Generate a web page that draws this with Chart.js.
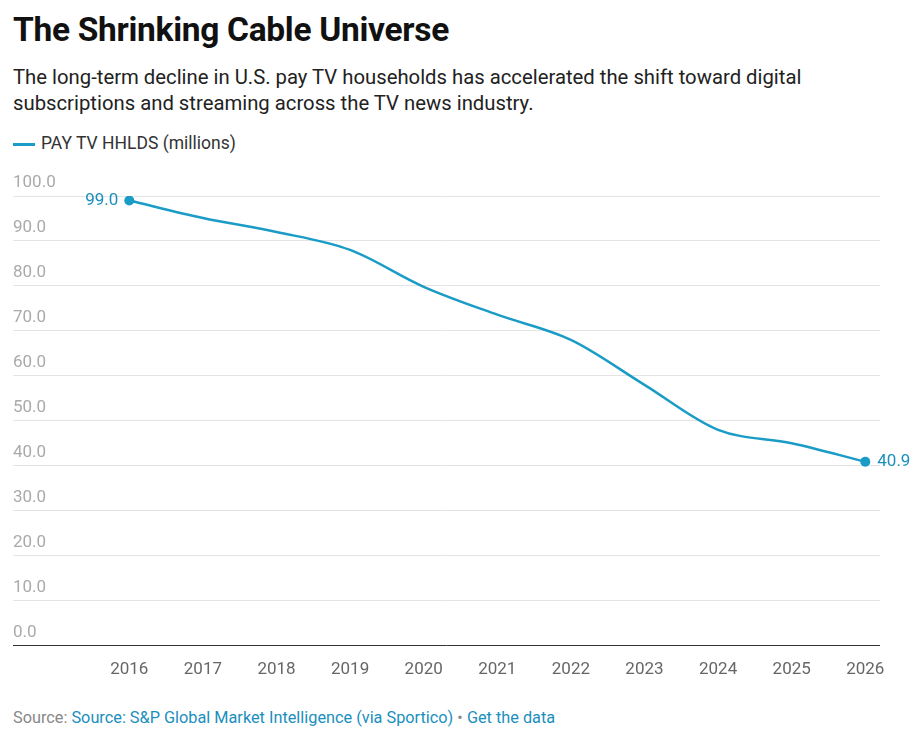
<!DOCTYPE html>
<html>
<head>
<meta charset="utf-8">
<script src="https://cdn.jsdelivr.net/npm/chart.js@4"></script>
<style>
  body { margin: 0; background: #fff; font-family: Roboto, sans-serif; }
  #wrap { position: relative; width: 922px; height: 739px; }
  h1 { position: absolute; left: 13px; top: 10px; margin: 0; font-size: 33.5px; font-weight: 700; color: #111; letter-spacing: -0.3px; }
  .sub { position: absolute; left: 13px; top: 64px; width: 880px; font-size: 20.3px; line-height: 26px; color: #222; }
  .legend { position: absolute; left: 13px; top: 133px; font-size: 17.5px; color: #333; }
  .legend span { display: inline-block; width: 22px; height: 3px; background: #1a9cc6; vertical-align: middle; margin-right: 6px; }
  #box { position: absolute; left: 0; top: 170px; width: 922px; height: 516px; }
  .src { position: absolute; left: 13px; top: 708px; font-size: 16.3px; color: #888; }
  .src a { color: #1a8fbd; text-decoration: none; }
</style>
</head>
<body>
<div id="wrap">
  <h1>The Shrinking Cable Universe</h1>
  <div class="sub">The long-term decline in U.S. pay TV households has accelerated the shift toward digital subscriptions and streaming across the TV news industry.</div>
  <div class="legend"><span></span>PAY TV HHLDS (millions)</div>
  <div id="box"><canvas id="chart"></canvas></div>
  <div class="src">Source: <a>Source: S&amp;P Global Market Intelligence (via Sportico)</a> • <a>Get the data</a></div>
</div>
<script>
// Dados do gráfico
const years = [2016, 2017, 2018, 2019, 2020, 2021, 2022, 2023, 2024, 2025, 2026];
const payTv = [99.0, 95.1, 92.0, 88.0, 79.8, 73.6, 68.0, 58.0, 48.0, 45.0, 40.9];
const yTicks = [0, 10, 20, 30, 40, 50, 60, 70, 80, 90, 100];

const endLabels = {
    id: 'endLabels',
    afterDatasetsDraw(chart) {
        const ctx = chart.ctx;
        const meta = chart.getDatasetMeta(0);
        const last = payTv.length - 1;
        ctx.save();
        ctx.font = '17px Roboto';
        ctx.fillStyle = '#1a8fbd';
        ctx.textBaseline = 'middle';
        const p0 = meta.data[0];
        ctx.textAlign = 'right';
        ctx.fillText(payTv[0].toFixed(1), p0.x - 11, p0.y);
        const pl = meta.data[last];
        ctx.textAlign = 'left';
        ctx.fillText(payTv[last].toFixed(1), pl.x + 12, pl.y);
        ctx.restore();
    }
};

new Chart(document.getElementById('chart'), {
    type: 'line',
    data: {
        datasets: [{
            data: years.map((y, i) => ({ x: y, y: payTv[i] })),
            borderColor: '#1a9cc6',
            borderWidth: 2.5,
            cubicInterpolationMode: 'monotone',
            pointRadius: payTv.map((v, i) => (i === 0 || i === payTv.length - 1) ? 5 : 0),
            pointBackgroundColor: '#1a9cc6',
            pointBorderWidth: 0
        }]
    },
    options: {
        responsive: true,
        maintainAspectRatio: false,
        animation: false,
        layout: { padding: { left: 13, right: 42, top: 26, bottom: 0 } },
        plugins: { legend: { display: false }, tooltip: { enabled: false } },
        scales: {
            x: {
                type: 'linear',
                min: 2014.42,
                max: 2026.2,
                afterBuildTicks: axis => { axis.ticks = years.map(v => ({ value: v })); },
                grid: { display: false },
                border: { display: false },
                ticks: { color: '#666', font: { size: 17, family: 'Roboto' }, padding: 6, callback: v => String(v) }
            },
            y: {
                min: 0,
                max: 100,
                afterBuildTicks: axis => { axis.ticks = yTicks.map(v => ({ value: v })); },
                grid: {
                    color: ctx => ctx.tick.value === 0 ? '#333' : '#e3e3e3',
                    lineWidth: 1,
                    drawTicks: false
                },
                border: { display: false },
                ticks: {
                    mirror: true,
                    padding: 0,
                    labelOffset: -13,
                    color: '#aaa',
                    font: { size: 17, family: 'Roboto' },
                    callback: v => v.toFixed(1)
                }
            }
        }
    },
    plugins: [endLabels]
});
</script>
</body>
</html>
